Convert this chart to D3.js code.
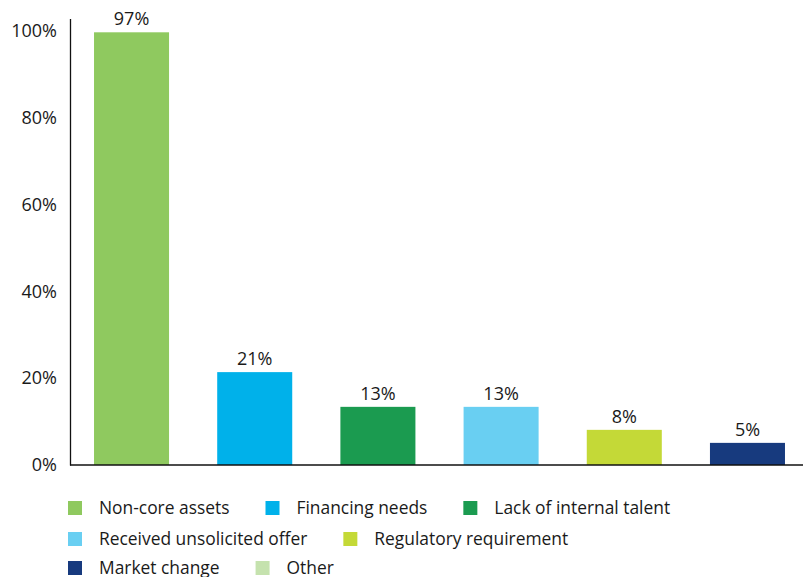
<!DOCTYPE html>
<html>
<head>
<meta charset="utf-8">
<script src="https://cdn.jsdelivr.net/npm/d3@7/dist/d3.min.js"></script>
<style>
  html, body { margin: 0; padding: 0; background: #fff; }
  svg { display: block; }
  text { font-family: "Open Sans", "Noto Sans", sans-serif; fill: #1a1a1a; }
</style>
</head>
<body>
<svg id="chart" width="804" height="577"></svg>
<script>
// Data
const categories = ["Non-core assets", "Financing needs", "Lack of internal talent",
                    "Received unsolicited offer", "Regulatory requirement", "Market change"];
// bar heights as drawn (percent of axis)
const values = [99.7, 21.4, 13.4, 13.4, 8.1, 5.1];
// printed value labels
const valueLabels = ["97%", "21%", "13%", "13%", "8%", "5%"];
const colors = ["#8fc95f", "#00b1ea", "#1b9b50", "#69cff2", "#c4d937", "#173a7e"];
const legendItems = ["Non-core assets", "Financing needs", "Lack of internal talent",
                     "Received unsolicited offer", "Regulatory requirement", "Market change", "Other"];
const legendColors = ["#8fc95f", "#00b1ea", "#1b9b50", "#69cff2", "#c4d937", "#173a7e", "#c5e2ae"];
const legendRows = [[0, 1, 2], [3, 4], [5, 6]];
const yTicks = [0, 20, 40, 60, 80, 100];

const svg = d3.select("#chart");
const x = d3.scaleBand().domain(categories).range([70, 809])
  .paddingInner(0.391).paddingOuter(0.195);
const y = d3.scaleLinear().domain([0, 100]).range([465, 31]);

// bars
svg.selectAll("rect.bar").data(categories).join("rect")
  .attr("class", "bar")
  .attr("x", d => x(d))
  .attr("width", x.bandwidth())
  .attr("y", (d, i) => y(values[i]))
  .attr("height", (d, i) => y(0) - y(values[i]))
  .attr("fill", (d, i) => colors[i]);

// value labels
svg.selectAll("text.val").data(categories).join("text")
  .attr("class", "val")
  .attr("x", d => x(d) + x.bandwidth() / 2)
  .attr("y", (d, i) => y(values[i]) - 7)
  .attr("text-anchor", "middle")
  .style("font-size", "18px")
  .text((d, i) => valueLabels[i]);

// y axis
const yAxis = d3.axisLeft(y).tickValues(yTicks).tickFormat(d => d + "%").tickSize(0).tickPadding(13);
const ga = svg.append("g").attr("transform", "translate(70,0)").call(yAxis);
ga.select(".domain").remove();
ga.selectAll("text").style("font-size", "18px").style("font-family", '"Open Sans", sans-serif').attr("fill", "#1a1a1a");
svg.append("line").attr("x1", 70.5).attr("x2", 70.5).attr("y1", 19).attr("y2", 465.5)
  .attr("stroke", "#111").attr("stroke-width", 1.3);
svg.append("line").attr("x1", 70).attr("x2", 803).attr("y1", 465).attr("y2", 465)
  .attr("stroke", "#111").attr("stroke-width", 1.5);

// legend
const rowY = [508, 539, 568];
legendRows.forEach((row, r) => {
  let cx = 68;
  row.forEach(idx => {
    const g = svg.append("g");
    g.append("rect").attr("x", cx).attr("y", rowY[r] - 7).attr("width", 14).attr("height", 14)
      .attr("fill", legendColors[idx]);
    const t = g.append("text").attr("x", cx + 31).attr("y", rowY[r] + 6)
      .style("font-size", "17.4px").text(legendItems[idx]);
    const w = t.node().getComputedTextLength();
    cx = cx + 31 + w + 36;
  });
});
</script>
</body>
</html>
